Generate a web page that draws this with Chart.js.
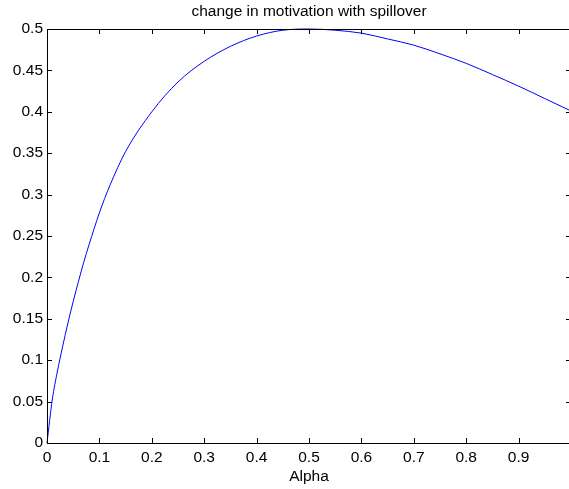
<!DOCTYPE html>
<html>
<head>
<meta charset="utf-8">
<script src="https://cdn.jsdelivr.net/npm/chart.js@4/dist/chart.umd.min.js"></script>
<style>
  html, body { margin: 0; padding: 0; background: #fff; overflow: hidden; }
</style>
</head>
<body>
<canvas id="chart" width="572" height="489"></canvas>
<script>
// values
const alpha = [0, 0.01, 0.02, 0.03, 0.04, 0.05, 0.06, 0.07, 0.08, 0.1, 0.12, 0.15, 0.2,
    0.25, 0.3, 0.35, 0.4, 0.45, 0.5, 0.55, 0.6, 0.65, 0.7, 0.75, 0.8, 0.85, 0.9, 0.95, 1.0];
const motivation = [0, 0.052, 0.087, 0.117, 0.145, 0.171, 0.195, 0.218, 0.239, 0.278, 0.311,
    0.352, 0.4, 0.436, 0.461, 0.479, 0.4915, 0.4985, 0.5, 0.4985, 0.495, 0.488, 0.4805,
    0.47, 0.4585, 0.445, 0.431, 0.416, 0.401];

const xTicks = [0, 0.1, 0.2, 0.3, 0.4, 0.5, 0.6, 0.7, 0.8, 0.9];
const xTickLabels = ["0", "0.1", "0.2", "0.3", "0.4", "0.5", "0.6", "0.7", "0.8", "0.9"];
const yTicks = [0, 0.05, 0.1, 0.15, 0.2, 0.25, 0.3, 0.35, 0.4, 0.45, 0.5];
const yTickLabels = ["0", "0.05", "0.1", "0.15", "0.2", "0.25", "0.3", "0.35", "0.4", "0.45", "0.5"];

const titleText = "change in motivation with spillover";
const xTitle = "Alpha";

const FONT = "'Liberation Sans', Arial, sans-serif";

// matlab style box + inward ticks + title centred on the axes
const matlabFrame = {
    id: "matlabFrame",
    afterDraw(chart) {
        const ctx = chart.ctx;
        const a = chart.chartArea;
        const xs = chart.scales.x;
        const ys = chart.scales.y;
        const len = 5;

        ctx.save();
        ctx.strokeStyle = "#000";
        ctx.lineWidth = 1;
        ctx.beginPath();
        ctx.rect(a.left + 0.5, a.top + 0.5, a.right - a.left, a.bottom - a.top);

        xTicks.forEach(v => {
            const px = Math.round(xs.getPixelForValue(v)) + 0.5;
            ctx.moveTo(px, a.bottom);
            ctx.lineTo(px, a.bottom - len);
            ctx.moveTo(px, a.top);
            ctx.lineTo(px, a.top + len);
        });
        yTicks.forEach(v => {
            const py = Math.round(ys.getPixelForValue(v)) + 0.5;
            ctx.moveTo(a.left, py);
            ctx.lineTo(a.left + len, py);
            ctx.moveTo(a.right, py);
            ctx.lineTo(a.right - len, py);
        });
        ctx.stroke();

        ctx.fillStyle = "#000";
        ctx.font = "15.5px " + FONT;
        ctx.textAlign = "center";
        ctx.textBaseline = "middle";
        ctx.fillText(titleText, (a.left + a.right) / 2, 12);
        ctx.restore();
    }
};

new Chart(document.getElementById("chart"), {
    type: "line",
    data: {
        datasets: [{
            data: alpha.map((a, i) => ({ x: a, y: motivation[i] })),
            borderColor: "#0000ff",
            borderWidth: 1,
            pointRadius: 0,
            cubicInterpolationMode: "monotone",
            clip: 2,
            fill: false
        }]
    },
    options: {
        responsive: false,
        animation: false,
        layout: { padding: { top: 29, right: 1, left: 0, bottom: 0 } },
        plugins: {
            legend: { display: false },
            tooltip: { enabled: false },
            title: { display: false }
        },
        scales: {
            x: {
                type: "linear",
                min: 0,
                max: 1,
                afterBuildTicks: s => { s.ticks = xTicks.map(v => ({ value: v })); },
                afterFit: s => { s.height = 46; },
                grid: { display: false, drawTicks: false },
                border: { display: false },
                ticks: {
                    color: "#000",
                    padding: 5,
                    maxRotation: 0,
                    autoSkip: false,
                    font: { family: FONT, size: 15.5 },
                    callback: (v, i) => xTickLabels[i]
                },
                title: {
                    display: true,
                    text: xTitle,
                    color: "#000",
                    padding: { top: 0, bottom: 3 },
                    font: { family: FONT, size: 15.5 }
                }
            },
            y: {
                min: 0,
                max: 0.5,
                afterBuildTicks: s => { s.ticks = yTicks.map(v => ({ value: v })); },
                afterFit: s => { s.width = 47; },
                grid: { display: false, drawTicks: false },
                border: { display: false },
                ticks: {
                    color: "#000",
                    padding: 4,
                    autoSkip: false,
                    font: { family: FONT, size: 15.5 },
                    callback: (v, i) => yTickLabels[i]
                }
            }
        }
    },
    plugins: [matlabFrame]
});
</script>
</body>
</html>
